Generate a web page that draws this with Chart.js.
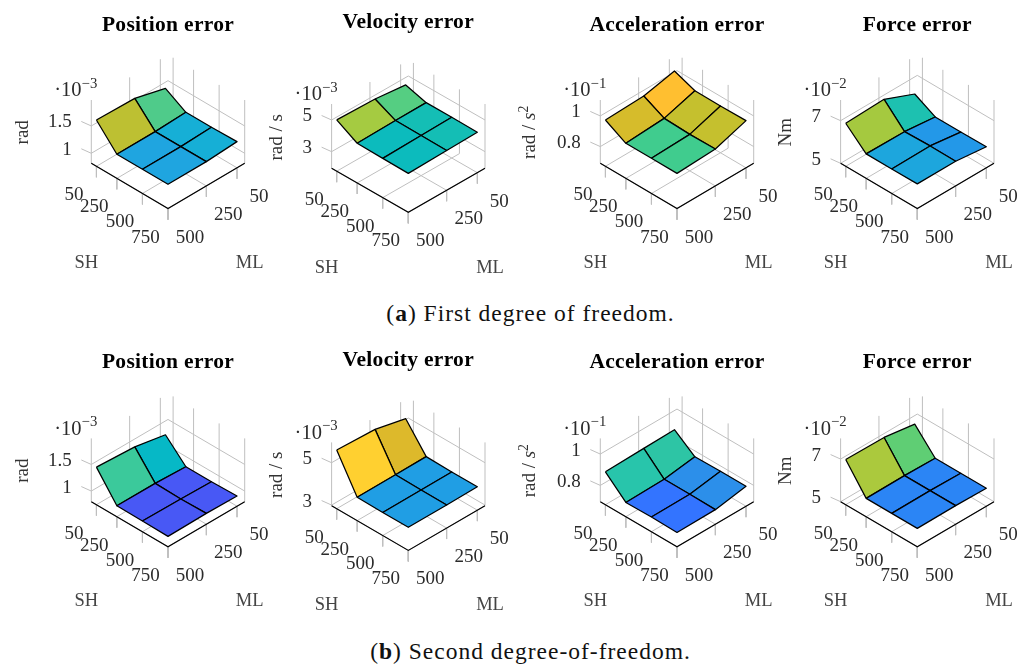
<!DOCTYPE html>
<html><head><meta charset="utf-8">
<script src="https://cdn.jsdelivr.net/npm/chart.js@4/dist/chart.umd.min.js"></script>
<style>
html,body{margin:0;padding:0;background:#fff;overflow:hidden;width:1029px;height:665px}
canvas{position:absolute;top:0}
.cap{position:absolute;left:16px;width:1029px;text-align:center;font:23.5px 'Liberation Serif',serif;color:#111;line-height:24px;letter-spacing:1px}
</style></head><body>
<div class="cap" style="top:301px">(<b>a</b>) First degree of freedom.</div>
<div class="cap" style="top:639px">(<b>b</b>) Second degree-of-freedom.</div>
<script>
// Categories
const SH = [50, 250, 500, 750];
const ML = [500, 250, 50];
const SH_MAX = 750, ML_MAX = 500;
const titles = ['Position error', 'Velocity error', 'Acceleration error', 'Force error'];
const units = [[{t:'rad'}], [{t:'rad / s'}], [{t:'rad / '},{t:'s',i:1},{t:'2',s:1}], [{t:'Nm'}]];
const exponents = ['−3', '−3', '−1', '−2'];
const zTicks = [[1, 1.5], [3, 5], [0.8, 1], [5, 7]];
const zTickLabels = [['1','1.5'], ['3','5'], ['0.8','1'], ['5','7']];

// Values: rows follow SH, columns follow ML
const position1 = [[1.665,1.646,1.497],[1.258,1.258,1.280],[1.260,1.260,1.282],[1.262,1.262,1.296]];
const velocity1 = [[5.19,5.12,4.90],[4.46,4.50,4.52],[4.43,4.48,4.52],[4.41,4.46,4.50]];
const accel1    = [[0.993,1.002,1.047],[0.920,0.935,0.997],[0.921,0.929,0.996],[0.921,0.932,0.999]];
const force1    = [[7.02,7.08,6.48],[6.15,6.13,5.97],[6.15,6.17,5.97],[6.16,6.16,5.99]];
const position2 = [[1.506,1.465,1.353],[1.006,1.003,0.978],[1.000,0.991,0.978],[0.994,1.003,0.991]];
const velocity2 = [[5.74,5.66,5.32],[4.07,4.08,4.09],[4.06,4.06,4.07],[4.06,4.06,4.08]];
const accel2    = [[0.906,0.912,0.916],[0.787,0.791,0.820],[0.790,0.791,0.823],[0.787,0.789,0.823]];
const force2    = [[7.12,7.10,6.88],[5.86,5.87,5.84],[5.86,5.87,5.84],[5.86,5.87,5.84]];
const seriesByRow = [[position1,velocity1,accel1,force1],[position2,velocity2,accel2,force2]];

// Axis ranges
const zRanges = [
  [[0.817,1.975],[1.95,6.01],[0.691,1.104],[5,7.97]],
  [[0.80,1.99],[2.97,5.96],[0.696,1.10],[5,7.97]]
];

// Cell colours [SH cell][ML cell]
const cellColors = [
 [[['#BDC032','#4FCB8A'],['#1FA5E0','#16AFD6'],['#1FA5E0','#16AFD6']],
  [['#A5CB41','#55CE82'],['#0CBBBD','#14BEB5'],['#0CBBBD','#14BEB5']],
  [['#D6BC2B','#FFBF30'],['#40CC8E','#C5C02E'],['#40CC8E','#C5C02E']],
  [['#A5C93F','#1DC1B0'],['#1DA6DD','#2398E8'],['#1DA6DD','#2398E8']]],
 [[['#3BC99B','#06B8C6'],['#4858F5','#4858F5'],['#4858F5','#4858F5']],
  [['#FFD030','#DDB92B'],['#209EE4','#209EE4'],['#209EE4','#209EE4']],
  [['#28C5AB','#2DC5A5'],['#3374FF','#2C8FEA'],['#3374FF','#2C8FEA']],
  [['#ABC93D','#5FCE74'],['#2B85F5','#2B85F5'],['#2B85F5','#2B85F5']]]
];

// Layout of each panel
const centerX = [168, 408.3, 677, 917.3];
const floorY = [[163.3,168.3,163.3,163.3],[501.7,505.7,501.7,501.7]];
const depthH = [[45.3,44,45.3,45.3],[45,44.7,45,45]];
const wallH = [[63.3,64.3,63.3,63.3],[63.3,63.3,63.3,63.3]];
const titleY = [[25,22.7,25,25],[362.7,360.5,362.7,362.7]];
const unitX = [68.6,55,70,55];
const halfW = 76.7, canvasW = 280, canvasH = 300;
const canvasTop = [0, 340];
const FONT = "'Liberation Serif', serif";
const GRID = '#bfbfbf';
const TEXT_DY = 1.5;

function drawRuns(ctx, x, y, runs, size, align, color) {
  const fontOf = r => (r.i ? 'italic ' : '') + (r.s ? size*0.72 : size) + 'px ' + FONT;
  let w = 0;
  runs.forEach(r => { ctx.font = fontOf(r); w += ctx.measureText(r.t).width; });
  let cx = align === 'right' ? x - w : align === 'center' ? x - w/2 : x;
  ctx.textAlign = 'left'; ctx.textBaseline = 'middle'; ctx.fillStyle = color;
  runs.forEach(r => {
    ctx.font = fontOf(r);
    ctx.fillText(r.t, cx, (r.s ? y - size*0.33 : y) + TEXT_DY);
    cx += ctx.measureText(r.t).width;
  });
}

function makePanel(row, col) {
  const values = seriesByRow[row][col];
  const [zMin, zMax] = zRanges[row][col];
  const h = depthH[row][col], H = wallH[row][col], Ly = floorY[row][col], cx = centerX[col];
  const left = Math.round(cx - 168), top = canvasTop[row];
  const proj = (sh, ml, z) => {
    const u = sh/SH_MAX, v = ml/ML_MAX, w = (z - zMin)/(zMax - zMin);
    return {x: (u - v)*halfW, y: (1 - u - v)*h + w*H};
  };
  const shift = (p, dx, dy) => ({x: p.x + dx, y: p.y + dy});
  const datasets = [];
  const line = (pts, color, order, width) => datasets.push({data: pts, showLine: true, fill: false,
    borderColor: color, borderWidth: width || 1, pointRadius: 0, order});
  // floor grid, wall verticals and tick marks
  SH.forEach(s => {
    line([proj(s,0,zMin), proj(s,ML_MAX,zMin)], GRID, 100);
    line([proj(s,0,zMin), proj(s,0,zMax)], GRID, 100);
    line([proj(s,ML_MAX,zMin), shift(proj(s,ML_MAX,zMin),0,-11)], GRID, 100);
  });
  ML.forEach(m => {
    line([proj(0,m,zMin), proj(SH_MAX,m,zMin)], GRID, 100);
    line([proj(0,m,zMin), proj(0,m,zMax)], GRID, 100);
    line([proj(SH_MAX,m,zMin), shift(proj(SH_MAX,m,zMin),0,-11)], GRID, 100);
  });
  zTicks[col].forEach(z => {
    line([proj(0,ML_MAX,z), proj(0,0,z), proj(SH_MAX,0,z)], GRID, 100);
    line([proj(0,ML_MAX,z), shift(proj(0,ML_MAX,z),-10,4.5)], GRID, 100);
  });
  // front axes
  line([proj(0,ML_MAX,zMin), proj(SH_MAX,ML_MAX,zMin), proj(SH_MAX,0,zMin)], '#000', 50, 1.2);
  // surface cells
  for (let i = 0; i < SH.length-1; i++) for (let j = 0; j < ML.length-1; j++) {
    const p = (a,b) => proj(SH[a], ML[b], values[a][b]);
    datasets.push({
      data: [p(i,j), p(i+1,j), p(i+1,j+1), p(i,j+1), p(i,j)],
      showLine: true, fill: 'shape', backgroundColor: cellColors[row][col][i][j],
      borderColor: '#000', borderWidth: 1.25, pointRadius: 0, borderJoinStyle: 'round',
      order: 10 - (i + 2 - j)
    });
  }
  const textPlugin = {
    id: 'panelText',
    afterDraw(chart) {
      const ctx = chart.ctx, X = chart.scales.x, Y = chart.scales.y;
      const px = p => ({x: X.getPixelForValue(p.x), y: Y.getPixelForValue(p.y)});
      ctx.save();
      // title
      ctx.font = 'bold 21.5px ' + FONT; ctx.textAlign = 'center'; ctx.textBaseline = 'middle';
      ctx.fillStyle = '#000';
      ctx.letterSpacing = '0.3px';
      ctx.fillText(titles[col], cx - left, titleY[row][col] - top);
      ctx.letterSpacing = '0px';
      // tick labels
      const tc = '#2b2b2b';
      SH.forEach(s => { const q = px(shift(proj(s,ML_MAX,zMin),-22.5,-27.5));
        drawRuns(ctx, q.x, q.y, [{t:String(s)}], 19, 'center', tc); });
      ML.forEach(m => { const q = px(shift(proj(SH_MAX,m,zMin),22,-27.5));
        drawRuns(ctx, q.x, q.y, [{t:String(m)}], 19, 'center', tc); });
      zTicks[col].forEach((z,k) => { const q = px(proj(0,ML_MAX,z));
        drawRuns(ctx, q.x - 19.5, q.y - 5, [{t:zTickLabels[col][k]}], 19, 'right', tc); });
      // multiplier
      const t = px(proj(0,ML_MAX,zMax));
      drawRuns(ctx, t.x + 6, t.y - 10.7, [{t:'·10'},{t:exponents[col],s:1}], 20.5, 'right', tc);
      // axis names
      const L = px(proj(0,ML_MAX,zMin)), R = px(proj(SH_MAX,0,zMin));
      drawRuns(ctx, L.x - 5, L.y + 98, [{t:'SH'}], 18.5, 'center', '#444');
      drawRuns(ctx, R.x + 5, R.y + 98, [{t:'ML'}], 18.5, 'center', '#444');
      ctx.save();
      ctx.translate(L.x - unitX[col] - TEXT_DY, L.y - 31);
      ctx.rotate(-Math.PI/2);
      drawRuns(ctx, 0, 0, units[col], 19, 'center', '#333');
      ctx.restore();
      ctx.restore();
    }
  };
  const cv = document.createElement('canvas');
  cv.width = canvasW; cv.height = canvasH;
  cv.style.left = left + 'px'; cv.style.top = top + 'px';
  document.body.appendChild(cv);
  new Chart(cv, {
    type: 'scatter',
    data: {datasets},
    options: {
      responsive: false, animation: false, events: [],
      layout: {padding: 0},
      plugins: {legend: {display: false}, tooltip: {enabled: false}, title: {display: false}},
      scales: {
        x: {type: 'linear', display: false, min: left - cx, max: left + canvasW - cx},
        y: {type: 'linear', display: false, min: Ly - top - canvasH, max: Ly - top}
      }
    },
    plugins: [textPlugin]
  });
}
for (let r = 0; r < 2; r++) for (let c = 0; c < 4; c++) makePanel(r, c);
</script>
</body></html>
